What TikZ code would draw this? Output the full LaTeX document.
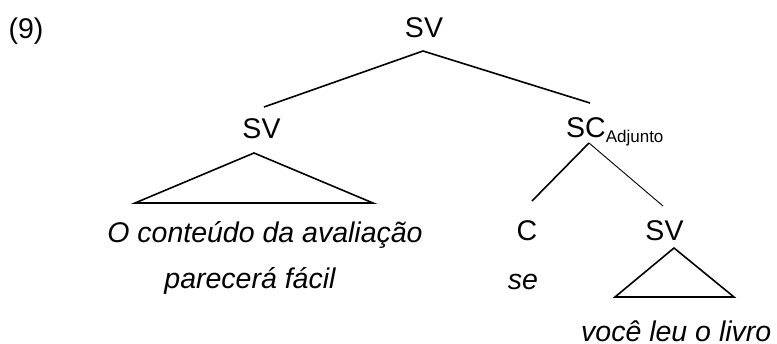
\documentclass[tikz,border=0pt]{standalone}
\usepackage{fontspec}
\setmainfont{Liberation Sans}
\begin{document}
\begin{tikzpicture}[x=1pt,y=-1pt,
  lab/.style={inner sep=0pt,anchor=base,font=\fontsize{28.5}{34}\selectfont},
  ital/.style={lab,font=\fontsize{28.5}{34}\selectfont\itshape},
  edge/.style={line width=1.6pt},
  thinedge/.style={line width=0.9pt},
  tri/.style={line width=1.6pt,line join=miter}]
\useasboundingbox (0,0) rectangle (777,343);
% labels
\node[lab] (num) at (26,38) {(9)};
\node[lab] (sv0) at (424,37) {SV};
\node[lab] (sv1) at (261.5,138) {SV};
\node[lab,anchor=base west] (sc) at (566,137) {SC\raisebox{-5pt}{\fontsize{17}{20}\selectfont Adjunto}};
\node[ital] (txt1) at (265,242) {O conteúdo da avaliação};
\node[ital] (txt2) at (250,288) {parecerá fácil};
\node[lab] (c) at (527,240) {C};
\node[ital] (se) at (523,289) {se};
\node[lab] (sv2) at (664.5,240) {SV};
\node[ital,anchor=base west] (txt3) at (581,341) {você leu o livro};
% connector points
\coordinate (p0) at (423,51);
\coordinate (p1) at (264,107);
\coordinate (p2) at (590,103);
\coordinate (p3) at (589,143);
\coordinate (p4) at (532,201);
\coordinate (p5) at (663,206);
% tree edges
\draw[edge] (p0) -- (p1);
\draw[edge] (p0) -- (p2);
\draw[edge] (p3) -- (p4);
\draw[thinedge] (p3) -- (p5);
% triangles
\coordinate (a1) at (254,153);
\coordinate (b1l) at (135,203);
\coordinate (b1r) at (373,203);
\draw[tri] (a1) -- (b1l) -- (b1r) -- cycle;
\coordinate (a2) at (674,248);
\coordinate (b2l) at (615,297);
\coordinate (b2r) at (734,297);
\draw[tri] (a2) -- (b2l) -- (b2r) -- cycle;
\end{tikzpicture}
\end{document}
